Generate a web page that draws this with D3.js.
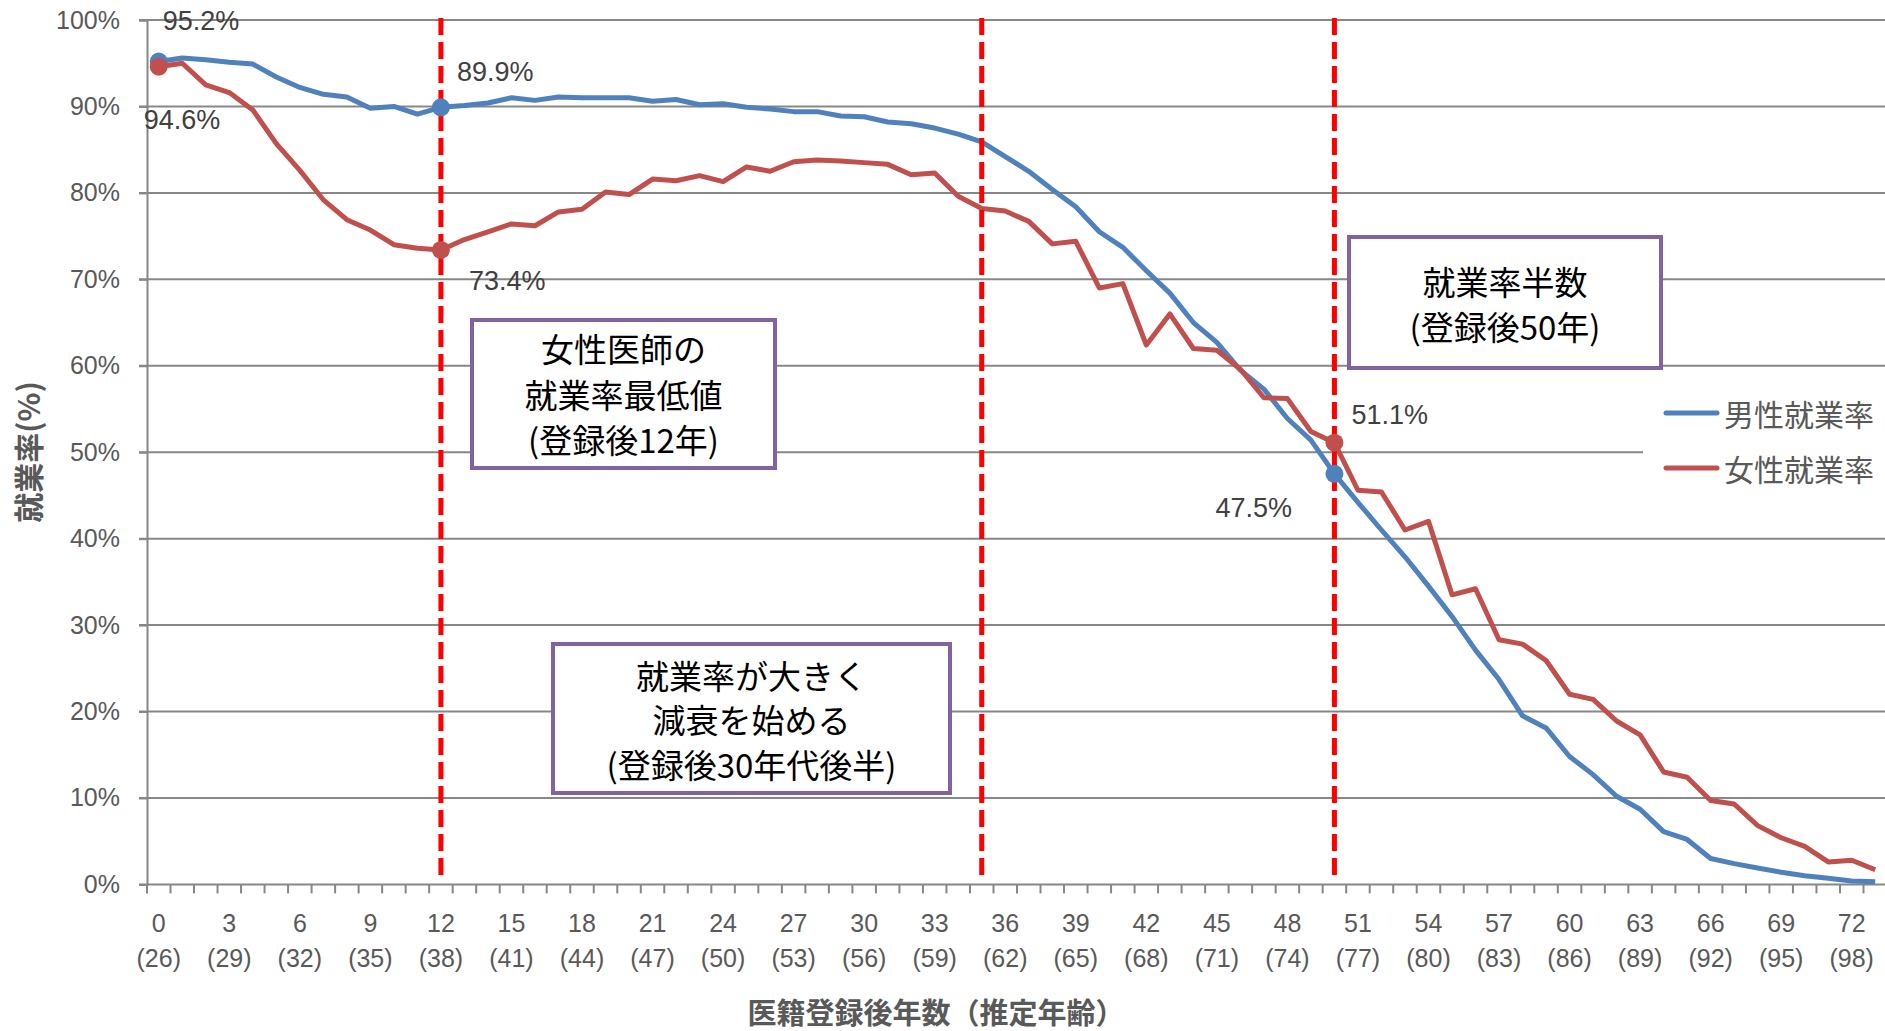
<!DOCTYPE html>
<html>
<head>
<meta charset="utf-8">
<script src="https://cdn.jsdelivr.net/npm/d3@7"></script>
<style>
body { margin: 0; background: #fff; }
.num { font-family: "Liberation Sans", Arial, sans-serif; }
.jp { font-family: "Noto Sans CJK JP", sans-serif; }
</style>
</head>
<body>
<div class="mainContainer"></div>
<script>
// years after registration (estimated age = years + 26)
var years = d3.range(0, 74);
var male = [95.2, 95.6, 95.4, 95.1, 94.9, 93.4, 92.2, 91.4, 91.1, 89.8,
	90.0, 89.1, 89.9, 90.1, 90.4, 91.0, 90.7, 91.1, 91.0, 91.0,
	91.0, 90.6, 90.8, 90.2, 90.3, 89.9, 89.7, 89.4, 89.4, 88.9,
	88.8, 88.2, 88.0, 87.5, 86.8, 85.9, 84.2, 82.5, 80.4, 78.4,
	75.5, 73.7, 71.0, 68.4, 65.0, 62.7, 59.5, 57.3, 53.9, 51.4,
	47.5, 44.2, 41.0, 37.9, 34.5, 31.0, 27.1, 23.7, 19.5, 18.1,
	14.8, 12.7, 10.2, 8.7, 6.1, 5.2, 3.0, 2.4, 1.9, 1.4,
	1.0, 0.7, 0.4, 0.3];
var female = [94.6, 95.0, 92.5, 91.6, 89.6, 85.7, 82.6, 79.2, 76.9, 75.7,
	74.0, 73.6, 73.4, 74.6, 75.5, 76.4, 76.2, 77.8, 78.1, 80.1,
	79.8, 81.6, 81.4, 82.0, 81.3, 83.0, 82.5, 83.6, 83.8, 83.7,
	83.5, 83.3, 82.1, 82.3, 79.6, 78.2, 77.9, 76.7, 74.1, 74.4,
	69.0, 69.5, 62.4, 66.0, 62.0, 61.8, 59.6, 56.3, 56.2, 52.4,
	51.1, 45.6, 45.4, 41.0, 42.0, 33.5, 34.2, 28.3, 27.8, 25.9,
	22.0, 21.4, 18.9, 17.3, 13.0, 12.4, 9.7, 9.3, 6.8, 5.4,
	4.4, 2.6, 2.8, 1.7];
var seriesNames = ['男性就業率', '女性就業率'];
var yTicks = [0, 10, 20, 30, 40, 50, 60, 70, 80, 90, 100];
var markYears = [0, 12, 50];
var dashYears = [12, 35, 50];

var W = 1885, H = 1031;
var colors = ['#4F81BD', '#C0504D'];

var svg = d3.select('.mainContainer').append('svg').attr('width', W).attr('height', H);
svg.append('rect').attr('width', W).attr('height', H).style('fill', '#fff');

var x = d3.scaleBand().domain(years).range([147, 1887]);
var y = d3.scaleLinear().domain([0, 100]).range([884.4, 20]);
var cx = function(i) { return x(i) + x.bandwidth() / 2; };

// gridlines
svg.append('g').selectAll('line').data(yTicks).enter().append('line')
	.attr('x1', 139).attr('x2', W).attr('y1', function(d) { return y(d); }).attr('y2', function(d) { return y(d); })
	.style('stroke', '#878787').style('stroke-width', 2);

// y axis
var yAxis = svg.append('g').attr('transform', 'translate(147,0)')
	.call(d3.axisLeft(y).tickValues(yTicks).tickSize(8).tickFormat(function(d) { return d + '%'; }));
yAxis.select('.domain').style('stroke', '#878787').style('stroke-width', 2);
yAxis.selectAll('line').style('stroke', '#878787').style('stroke-width', 2);
yAxis.selectAll('text').attr('class', 'num').attr('x', -27).style('font-size', '25px').style('fill', '#595959');

// x axis ticks at band edges
svg.append('g').selectAll('line').data(d3.range(0, 75)).enter().append('line')
	.attr('x1', function(d) { return 147 + d * x.bandwidth(); }).attr('x2', function(d) { return 147 + d * x.bandwidth(); })
	.attr('y1', y(0)).attr('y2', y(0) + 9)
	.style('stroke', '#878787').style('stroke-width', 2);

var xLabels = svg.append('g').selectAll('text').data(years.filter(function(d) { return d % 3 === 0; })).enter();
xLabels.append('text').attr('class', 'num').attr('x', cx).attr('y', 932).attr('text-anchor', 'middle')
	.style('font-size', '25px').style('fill', '#595959').text(function(d) { return d; });
xLabels.append('text').attr('class', 'num').attr('x', cx).attr('y', 967).attr('text-anchor', 'middle')
	.style('font-size', '25px').style('fill', '#595959').text(function(d) { return '(' + (d + 26) + ')'; });

// axis titles
svg.append('text').attr('class', 'jp').attr('transform', 'translate(27,452) rotate(-90)')
	.attr('text-anchor', 'middle').attr('dominant-baseline', 'central')
	.style('font-size', '30px').style('font-weight', 'bold').style('fill', '#595959').text('就業率(%)');
svg.append('text').attr('class', 'jp').attr('x', 936).attr('y', 1011)
	.attr('text-anchor', 'middle').attr('dominant-baseline', 'central')
	.style('font-size', '29px').style('font-weight', 'bold').style('fill', '#595959').text('医籍登録後年数（推定年齢）');

// series lines
var line = d3.line().x(function(d, i) { return cx(i); }).y(function(d) { return y(d); });
[male, female].forEach(function(s, k) {
	svg.append('path').datum(s).attr('d', line)
		.style('fill', 'none').style('stroke', colors[k]).style('stroke-width', 5).style('stroke-linejoin', 'round');
});

// dashed markers
svg.append('g').selectAll('line').data(dashYears).enter().append('line')
	.attr('x1', cx).attr('x2', cx).attr('y1', 18).attr('y2', 882)
	.style('stroke', '#FF0000').style('stroke-width', 5).style('stroke-dasharray', '17,7');

// point markers
[male, female].forEach(function(s, k) {
	svg.append('g').selectAll('circle').data(markYears).enter().append('circle')
		.attr('cx', cx).attr('cy', function(d) { return y(s[d]); }).attr('r', 9)
		.style('fill', colors[k]);
});

// data labels
var pointLabels = [
	{ s: 0, i: 0, dx: 4, dy: -40 },
	{ s: 1, i: 0, dx: -15, dy: 53 },
	{ s: 0, i: 12, dx: 16, dy: -35 },
	{ s: 1, i: 12, dx: 28, dy: 31 },
	{ s: 1, i: 50, dx: 17, dy: -28 },
	{ s: 0, i: 50, dx: -119, dy: 34 }
];
svg.append('g').selectAll('text').data(pointLabels).enter().append('text').attr('class', 'num')
	.attr('x', function(d) { return cx(d.i) + d.dx; })
	.attr('y', function(d) { return y([male, female][d.s][d.i]) + d.dy; })
	.attr('dominant-baseline', 'central')
	.style('font-size', '27px').style('fill', '#404040')
	.text(function(d) { return [male, female][d.s][d.i].toFixed(1) + '%'; });

// annotation boxes
var notes = [
	{ x: 472, y: 320, w: 303, h: 148, lines: ['女性医師の', '就業率最低値', '(登録後12年)'], ly: [348, 394, 439] },
	{ x: 1349, y: 237, w: 312, h: 131, lines: ['就業率半数', '(登録後50年)'], ly: [281, 326] },
	{ x: 553, y: 644, w: 397, h: 149, lines: ['就業率が大きく', '減衰を始める', '(登録後30年代後半)'], ly: [675, 719, 764] }
];
notes.forEach(function(n) {
	var g = svg.append('g');
	g.append('rect').attr('x', n.x).attr('y', n.y).attr('width', n.w).attr('height', n.h)
		.style('fill', '#fff').style('stroke', '#8064A2').style('stroke-width', 4);
	n.lines.forEach(function(t, j) {
		g.append('text').attr('class', 'jp').attr('x', n.x + n.w / 2).attr('y', n.ly[j])
			.attr('text-anchor', 'middle').attr('dominant-baseline', 'central')
			.style('font-size', '33px').style('fill', '#000').text(t);
	});
});

// legend
var legend = svg.append('g');
legend.append('rect').attr('x', 1643).attr('y', 382).attr('width', W - 1643).attr('height', 118).style('fill', '#fff');
seriesNames.forEach(function(name, k) {
	var ly = 413 + k * 55;
	legend.append('line').attr('x1', 1666).attr('x2', 1717).attr('y1', ly).attr('y2', ly)
		.style('stroke', colors[k]).style('stroke-width', 5).style('stroke-linecap', 'round');
	legend.append('text').attr('class', 'jp').attr('x', 1724).attr('y', ly)
		.attr('dominant-baseline', 'central').style('font-size', '30px').style('fill', '#595959').text(name);
});
</script>
</body>
</html>
